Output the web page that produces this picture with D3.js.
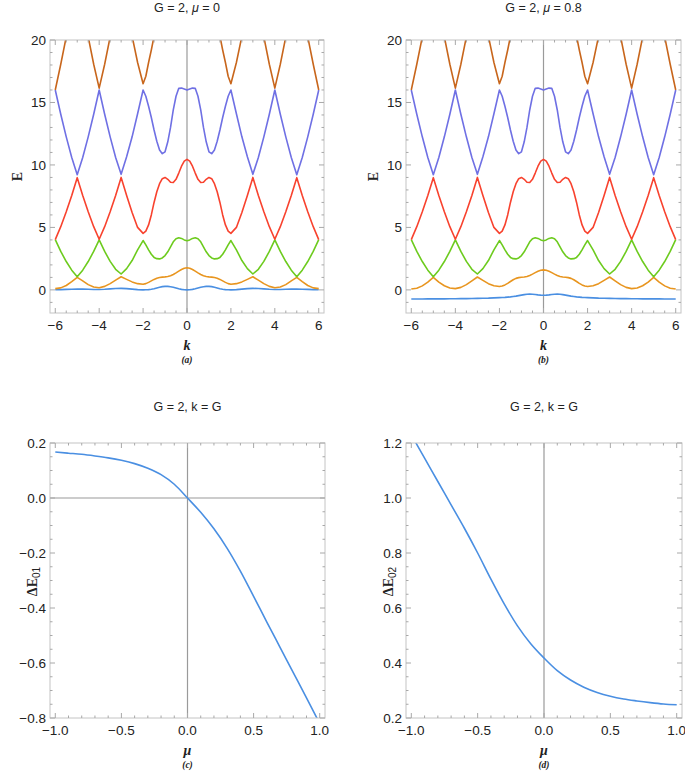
<!DOCTYPE html>
<html>
<head>
<meta charset="utf-8">
<script src="https://cdn.jsdelivr.net/npm/d3@7/dist/d3.min.js"></script>
<style>
  body { margin: 0; background: #fff; }
  svg { display: block; }
  text { font-family: "Liberation Sans", Arial, sans-serif; fill: #222; }
  .tickLabel { font-size: 13.5px; }
  .title { font-size: 12.5px; }
  .serif { font-family: "Liberation Serif", "Times New Roman", serif; font-weight: bold; }
</style>
</head>
<body>
<svg></svg>
<script>
var width = 685;
var height = 772;

// k grid shared by every band curve (finer near the centre)
var kVals = [-6,-5.75,-5.5,-5.25,-5,-4.75,-4.5,-4.25,-4,-3.75,-3.5,-3.25,-3,-2.75,-2.5,-2.25,
  -2,-1.875,-1.75,-1.625,-1.5,-1.375,-1.25,-1.125,-1,-0.875,-0.75,-0.625,-0.5,-0.375,-0.25,-0.125,
  0,0.125,0.25,0.375,0.5,0.625,0.75,0.875,1,1.125,1.25,1.375,1.5,1.625,1.75,1.875,
  2,2.25,2.5,2.75,3,3.25,3.5,3.75,4,4.25,4.5,4.75,5,5.25,5.5,5.75,6];

// panel (a): G = 2, mu = 0, bands 1 and 2
var band1A = [0.01,0.02,0.04,0.05,0.06,0.06,0.05,0.03,0.03,0.05,0.08,0.11,0.12,0.1,0.06,0.02,
  0,0.01,0.02,0.05,0.09,0.15,0.21,0.26,0.28,0.28,0.25,0.21,0.15,0.09,0.04,0.01,
  0,
  0.01,0.04,0.09,0.15,0.21,0.25,0.28,0.28,0.26,0.21,0.15,0.09,0.05,0.02,0.01,
  0,0.02,0.06,0.1,0.12,0.11,0.08,0.05,0.03,0.03,0.05,0.06,0.06,0.05,0.04,0.02,0.01];
var band2A = [0.1,0.16,0.35,0.66,1.0,0.72,0.42,0.23,0.17,0.28,0.5,0.78,1.05,0.84,0.64,0.5,
  0.45,0.5,0.6,0.72,0.84,0.93,0.99,1.02,1.04,1.07,1.13,1.23,1.36,1.5,1.63,1.73,
  1.77,
  1.73,1.63,1.5,1.36,1.23,1.13,1.07,1.04,1.02,0.99,0.93,0.84,0.72,0.6,0.5,
  0.45,0.5,0.64,0.84,1.05,0.78,0.5,0.28,0.17,0.23,0.42,0.72,1.0,0.66,0.35,0.16,0.1];

// panel (b): G = 2, mu = 0.8, bands 1 and 2
var band1B = [-0.73,-0.73,-0.73,-0.72,-0.72,-0.72,-0.72,-0.71,-0.71,-0.7,-0.7,-0.69,-0.68,-0.67,-0.66,-0.64,
  -0.62,-0.61,-0.6,-0.58,-0.56,-0.53,-0.5,-0.46,-0.42,-0.38,-0.35,-0.34,-0.35,-0.37,-0.4,-0.42,
  -0.43,
  -0.42,-0.4,-0.37,-0.35,-0.34,-0.35,-0.38,-0.42,-0.46,-0.5,-0.53,-0.56,-0.58,-0.6,-0.61,
  -0.62,-0.64,-0.66,-0.67,-0.68,-0.69,-0.7,-0.7,-0.71,-0.71,-0.72,-0.72,-0.72,-0.72,-0.73,-0.73,-0.73];
var band2B = [0.07,0.13,0.32,0.62,1.0,0.62,0.33,0.15,0.1,0.2,0.42,0.72,1.03,0.76,0.5,0.33,
  0.27,0.31,0.4,0.52,0.67,0.81,0.92,0.98,1.01,1.03,1.07,1.15,1.26,1.38,1.49,1.57,
  1.6,
  1.57,1.49,1.38,1.26,1.15,1.07,1.03,1.01,0.98,0.92,0.81,0.67,0.52,0.4,0.31,
  0.27,0.33,0.5,0.76,1.03,0.72,0.42,0.2,0.1,0.15,0.33,0.62,1.0,0.62,0.32,0.13,0.07];

// bands 3 to 6 read the same in both top panels
var band3 = [4.02,3.08,2.27,1.58,1.05,1.58,2.27,3.08,4.0,3.08,2.28,1.65,1.27,1.7,2.35,3.2,
  3.95,3.6,3.2,2.85,2.6,2.5,2.48,2.56,2.75,3.05,3.45,3.85,4.1,4.17,4.12,4.0,
  3.94,
  4.0,4.12,4.17,4.1,3.85,3.45,3.05,2.75,2.56,2.48,2.5,2.6,2.85,3.2,3.6,
  3.95,3.2,2.35,1.7,1.27,1.65,2.28,3.08,4.0,3.08,2.27,1.58,1.05,1.58,2.27,3.08,4.02];
var band4 = [4.02,5.06,6.25,7.56,8.98,7.56,6.25,5.06,4.05,5.06,6.25,7.56,9.0,7.55,6.2,5.0,
  4.52,4.7,5.2,6.0,7.0,7.85,8.5,8.9,9.0,8.85,8.62,8.6,8.85,9.35,9.9,10.3,
  10.45,
  10.3,9.9,9.35,8.85,8.6,8.62,8.85,9.0,8.9,8.5,7.85,7.0,6.0,5.2,4.7,
  4.52,5.0,6.2,7.55,9.0,7.56,6.25,5.06,4.05,5.06,6.25,7.56,8.98,7.56,6.25,5.06,4.02];
var band5 = [16.0,14.06,12.25,10.6,9.22,10.6,12.25,14.06,16.0,14.06,12.25,10.6,9.25,10.65,12.25,14.1,
  16.0,15.5,14.7,13.8,12.8,11.9,11.2,10.9,11.05,11.85,13.0,14.4,15.5,16.13,16.15,16.08,
  16.0,
  16.08,16.15,16.13,15.5,14.4,13.0,11.85,11.05,10.9,11.2,11.9,12.8,13.8,14.7,15.5,
  16.0,14.1,12.25,10.65,9.25,10.6,12.25,14.06,16.0,14.06,12.25,10.6,9.22,10.6,12.25,14.06,16.0];
// null where the band runs far above the plotted range
var band6 = [16.0,18.06,20.25,22.6,null,22.6,20.25,18.06,16.15,18.06,20.25,22.6,null,22.6,20.3,18.2,
  16.5,17.1,18.2,19.2,20.3,21.4,22.6,null,null,null,null,null,null,null,null,null,
  null,
  null,null,null,null,null,null,null,null,null,22.6,21.4,20.3,19.2,18.2,17.1,
  16.5,18.2,20.3,22.6,null,22.6,20.25,18.06,16.15,18.06,20.25,22.6,null,22.6,20.25,18.06,16.0];

var bandColors = ["#4a8fe2", "#e8951f", "#6dcb1e", "#f8422e", "#6f70e4", "#c8661c"];

// panels (c) and (d): k = G, as a function of mu
var muVals = [-1,-0.9,-0.8,-0.7,-0.6,-0.5,-0.4,-0.3,-0.2,-0.1,0,0.1,0.2,0.3,0.4,0.5,0.6,0.7,0.8,0.9,1];
var dE01 = [0.167,0.163,0.159,0.153,0.146,0.137,0.125,0.108,0.085,0.05,0,
  -0.052,-0.112,-0.183,-0.266,-0.358,-0.451,-0.543,-0.635,-0.727,-0.82];
var dE02 = [1.23,1.145,1.06,0.975,0.89,0.8,0.705,0.615,0.535,0.47,0.418,
  0.372,0.338,0.312,0.293,0.279,0.269,0.262,0.256,0.251,0.248];

// tick labels
var kTicks = [-6,-4,-2,0,2,4,6];
var eTicks = [0,5,10,15,20];
var muTicks = [-1,-0.5,0,0.5,1];
var dE01Ticks = [-0.8,-0.6,-0.4,-0.2,0,0.2];
var dE02Ticks = [0.2,0.4,0.6,0.8,1.0,1.2];

var svg = d3.select("svg")
  .attr("width", width)
  .attr("height", height);

var panels = [
  {id: "a", left: 50, right: 324, top: 40, bottom: 313, titleY: 12, xDomain: [-6.24, 6.24], yDomain: [-1.85, 20],
   xTicks: kTicks, xMinor: [-6, 6, 0.5], yTicks: eTicks, yMinor: [-1, 20, 1], fmtX: d3.format("d"), fmtY: d3.format("d"),
   title: ["G = 2, ", "\u03bc", " = 0"], xLabel: "k", tag: "(a)", yLabel: "E", zeroH: false,
   curve: d3.curveLinear, xs: kVals, series: [band1A, band2A, band3, band4, band5, band6]},
  {id: "b", left: 406, right: 681, top: 40, bottom: 313, titleY: 12, xDomain: [-6.24, 6.24], yDomain: [-1.85, 20],
   xTicks: kTicks, xMinor: [-6, 6, 0.5], yTicks: eTicks, yMinor: [-1, 20, 1], fmtX: d3.format("d"), fmtY: d3.format("d"),
   title: ["G = 2, ", "\u03bc", " = 0.8"], xLabel: "k", tag: "(b)", yLabel: "E", zeroH: false,
   curve: d3.curveLinear, xs: kVals, series: [band1B, band2B, band3, band4, band5, band6]},
  {id: "c", left: 50, right: 325, top: 443, bottom: 718, titleY: 411, xDomain: [-1.04, 1.04], yDomain: [-0.8, 0.2],
   xTicks: muTicks, xMinor: [-1, 1, 0.1], yTicks: dE01Ticks, yMinor: [-0.8, 0.2, 0.05], fmtX: d3.format(".1f"), fmtY: d3.format(".1f"),
   title: ["G = 2, k = G"], xLabel: "\u03bc", tag: "(c)", yLabel: "01", zeroH: true,
   curve: d3.curveMonotoneX, xs: muVals, series: [dE01]},
  {id: "d", left: 406, right: 682, top: 443, bottom: 718, titleY: 411, xDomain: [-1.04, 1.04], yDomain: [0.2, 1.2],
   xTicks: muTicks, xMinor: [-1, 1, 0.1], yTicks: dE02Ticks, yMinor: [0.2, 1.2, 0.05], fmtX: d3.format(".1f"), fmtY: d3.format(".1f"),
   title: ["G = 2, k = G"], xLabel: "\u03bc", tag: "(d)", yLabel: "02", zeroH: false,
   curve: d3.curveMonotoneX, xs: muVals, series: [dE02]}
];

function stepValues(r) {
  var n0 = Math.round(r[0] / r[2]), n1 = Math.round(r[1] / r[2]);
  return d3.range(n0, n1 + 1).map(function(i){ return +(i * r[2]).toFixed(4); });
}

panels.forEach(function(p){
  var g = svg.append("g").attr("class", "panel-" + p.id);
  var x = d3.scaleLinear().domain(p.xDomain).range([p.left, p.right]);
  var y = d3.scaleLinear().domain(p.yDomain).range([p.bottom, p.top]);

  svg.append("clipPath").attr("id", "clip-" + p.id)
    .append("rect")
    .attr("x", p.left).attr("y", p.top)
    .attr("width", p.right - p.left).attr("height", p.bottom - p.top);

  // axis lines through the origin
  g.append("line")
    .attr("x1", x(0)).attr("x2", x(0))
    .attr("y1", p.top).attr("y2", p.bottom)
    .attr("stroke", "#9a9a9a").attr("stroke-width", 1.2);
  if (p.zeroH) {
    g.append("line")
      .attr("x1", p.left).attr("x2", p.right)
      .attr("y1", y(0)).attr("y2", y(0))
      .attr("stroke", "#9a9a9a").attr("stroke-width", 1.2);
  }

  // curves
  var line = d3.line()
    .defined(function(d){ return d[1] !== null; })
    .x(function(d){ return x(d[0]); })
    .y(function(d){ return y(d[1]); })
    .curve(p.curve);

  g.append("g").attr("clip-path", "url(#clip-" + p.id + ")")
    .selectAll("path")
    .data(p.series)
    .enter()
    .append("path")
    .attr("d", function(s){ return line(s.map(function(v, i){ return [p.xs[i], v]; })); })
    .attr("fill", "none")
    .attr("stroke", function(s, i){ return bandColors[i]; })
    .attr("stroke-width", 1.6)
    .attr("stroke-linejoin", "round");

  // frame
  g.append("rect")
    .attr("x", p.left).attr("y", p.top)
    .attr("width", p.right - p.left).attr("height", p.bottom - p.top)
    .attr("fill", "none").attr("stroke", "#c4c4c4").attr("stroke-width", 1);

  // ticks on all four sides, major and minor
  var xMinor = stepValues(p.xMinor), yMinor = stepValues(p.yMinor);
  var tickG = g.append("g").attr("stroke", "#a8a8a8").attr("stroke-width", 1);
  xMinor.forEach(function(v){
    var len = p.xTicks.indexOf(v) >= 0 ? 5 : 2.5;
    tickG.append("line").attr("x1", x(v)).attr("x2", x(v)).attr("y1", p.bottom).attr("y2", p.bottom - len);
    tickG.append("line").attr("x1", x(v)).attr("x2", x(v)).attr("y1", p.top).attr("y2", p.top + len);
  });
  yMinor.forEach(function(v){
    var len = p.yTicks.indexOf(v) >= 0 ? 5 : 2.5;
    tickG.append("line").attr("x1", p.left).attr("x2", p.left + len).attr("y1", y(v)).attr("y2", y(v));
    tickG.append("line").attr("x1", p.right).attr("x2", p.right - len).attr("y1", y(v)).attr("y2", y(v));
  });

  g.selectAll("text.xt")
    .data(p.xTicks)
    .enter()
    .append("text")
    .attr("class", "tickLabel xt")
    .attr("x", function(d){ return x(d); })
    .attr("y", p.bottom + 17)
    .attr("text-anchor", "middle")
    .text(p.fmtX);

  g.selectAll("text.yt")
    .data(p.yTicks)
    .enter()
    .append("text")
    .attr("class", "tickLabel yt")
    .attr("x", p.left - 4)
    .attr("y", function(d){ return y(d); })
    .attr("dy", "0.36em")
    .attr("text-anchor", "end")
    .text(p.fmtY);

  // title
  var cx = (p.left + p.right) / 2;
  var title = g.append("text")
    .attr("class", "title")
    .attr("x", cx)
    .attr("y", p.titleY)
    .attr("text-anchor", "middle");
  p.title.forEach(function(t, i){
    title.append("tspan").style("font-style", i == 1 ? "italic" : "normal").text(t);
  });

  // x label and panel tag
  g.append("text")
    .attr("class", "serif")
    .attr("x", cx).attr("y", p.bottom + 37)
    .attr("text-anchor", "middle")
    .style("font-style", "italic").style("font-size", "14px")
    .text(p.xLabel);
  g.append("text")
    .attr("class", "serif")
    .attr("x", cx).attr("y", p.bottom + 50)
    .attr("text-anchor", "middle")
    .style("font-style", "italic").style("font-size", "9.5px")
    .text(p.tag);

  // y label, rotated
  var ly = (p.top + p.bottom) / 2;
  if (p.yLabel == "E") {
    g.append("text")
      .attr("class", "serif")
      .attr("transform", "translate(" + (p.left - 28) + "," + ly + ") rotate(-90)")
      .attr("text-anchor", "middle")
      .style("font-size", "14px")
      .text("E");
  } else {
    var yl = g.append("text")
      .attr("transform", "translate(" + (p.left - 13) + "," + (ly + 1) + ") rotate(-90)")
      .attr("text-anchor", "middle");
    yl.append("tspan").attr("class", "serif").style("font-size", "14px").text("\u0394E");
    yl.append("tspan").attr("dy", 3).style("font-size", "10px").text(p.yLabel);
  }
});
</script>
</body>
</html>
